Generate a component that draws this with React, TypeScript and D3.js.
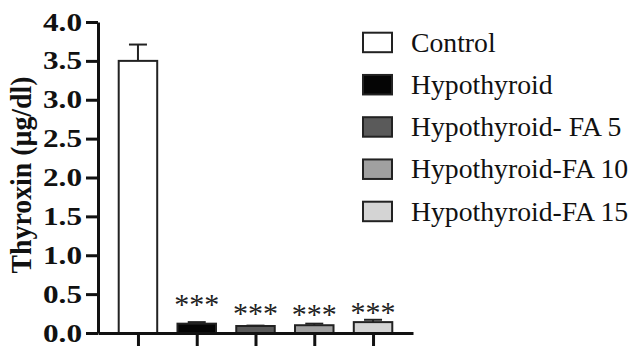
import React, { useEffect, useRef } from 'react';
import * as d3 from 'd3';

const groups = ['Control', 'Hypothyroid', 'Hypothyroid- FA 5', 'Hypothyroid-FA 10', 'Hypothyroid-FA 15'];
const means = [3.5, 0.12, 0.09, 0.1, 0.14];
const errors = [0.21, 0.02, 0.005, 0.02, 0.03];
const fills = ['#ffffff', '#050505', '#5a5a5a', '#a0a0a0', '#d4d4d4'];
// position of the significance marks, in axis units
const sigLabels = ['', '***', '***', '***', '***'];
const sigY = [0, 0.25, 0.13, 0.11, 0.145];
const yTicks = [0, 0.5, 1, 1.5, 2, 2.5, 3, 3.5, 4];

const FONT = '"Liberation Serif", "Times New Roman", serif';

const App = () => {
  const svgRef = useRef<SVGSVGElement>(null);

  useEffect(() => {
    const svg = d3.select(svgRef.current);
    svg.selectAll('*').remove();

    const width = 633;
    const height = 350;
    const left = 98;
    const bottom = 333;
    const top = 22;

    svg.attr('width', width).attr('height', height);

    const y = d3.scaleLinear().domain([0, 4]).range([bottom, top]);
    const x = d3.scalePoint<string>().domain(groups).range([left, 413]).padding(0.68);
    const barW = 38.5;
    const capW = 18;

    // bars
    const bars = svg.append('g');
    groups.forEach((g, i) => {
      const cx = x(g)!;
      // error bar
      bars.append('line')
        .attr('x1', cx).attr('x2', cx)
        .attr('y1', y(means[i])).attr('y2', y(means[i] + errors[i]))
        .attr('stroke', '#222').attr('stroke-width', 2);
      bars.append('line')
        .attr('x1', cx - capW / 2).attr('x2', cx + capW / 2)
        .attr('y1', y(means[i] + errors[i])).attr('y2', y(means[i] + errors[i]))
        .attr('stroke', '#222').attr('stroke-width', 2);
      bars.append('rect')
        .attr('x', cx - barW / 2)
        .attr('y', y(means[i]))
        .attr('width', barW)
        .attr('height', y(0) - y(means[i]))
        .attr('fill', fills[i])
        .attr('stroke', '#222')
        .attr('stroke-width', 2);
      if (sigLabels[i]) {
        bars.append('text')
          .attr('x', cx)
          .attr('y', y(sigY[i]))
          .attr('text-anchor', 'middle')
          .style('font-family', FONT)
          .style('font-size', '30px')
          .style('fill', '#222')
          .text(sigLabels[i]);
      }
    });

    // y axis
    const yAxis = svg.append('g')
      .attr('transform', `translate(${left},0)`)
      .call(d3.axisLeft(y).tickValues(yTicks).tickFormat(d3.format('.1f')).tickSize(12).tickPadding(4).tickSizeOuter(0));
    yAxis.select('.domain').attr('stroke', '#111').attr('stroke-width', 3);
    yAxis.selectAll('.tick line').attr('stroke', '#111').attr('stroke-width', 3);
    // labels are drawn wide in the original
    const sx = 1.25;
    yAxis.selectAll('.tick text')
      .attr('x', -16 / sx)
      .attr('transform', `scale(${sx},1)`)
      .style('font-family', FONT)
      .style('font-size', '25px')
      .style('font-weight', 'bold')
      .attr('fill', '#111');

    // x axis
    const xAxis = svg.append('g')
      .attr('transform', `translate(0,${bottom})`)
      .call(d3.axisBottom(x).tickSize(13).tickSizeOuter(0).tickFormat(() => ''));
    xAxis.select('.domain').attr('stroke', '#111').attr('stroke-width', 3);
    xAxis.selectAll('.tick line').attr('stroke', '#111').attr('stroke-width', 3);

    // y title
    svg.append('text')
      .attr('transform', `translate(31,175) rotate(-90)`)
      .attr('text-anchor', 'middle')
      .attr('textLength', 197)
      .attr('lengthAdjust', 'spacingAndGlyphs')
      .style('font-family', FONT)
      .style('font-size', '28.5px')
      .style('font-weight', 'bold')
      .style('fill', '#111')
      .text('Thyroxin (µg/dl)');

    // legend
    const rowY = d3.scalePoint<string>().domain(groups).range([42.7, 211.7]);
    const legend = svg.append('g');
    groups.forEach((g, i) => {
      const cy = rowY(g)!;
      legend.append('rect')
        .attr('x', 363).attr('y', cy - 10)
        .attr('width', 29).attr('height', 19.5)
        .attr('fill', fills[i])
        .attr('stroke', '#222').attr('stroke-width', 2);
      legend.append('text')
        .attr('x', 411).attr('y', cy + 9)
        .style('font-family', FONT)
        .style('font-size', '27.7px')
        .style('fill', '#111')
        .text(g);
    });
  }, []);

  return (
    <div style={{ position: 'absolute', left: 0, top: 0 }}>
      <svg ref={svgRef}></svg>
    </div>
  );
};

export default App;
